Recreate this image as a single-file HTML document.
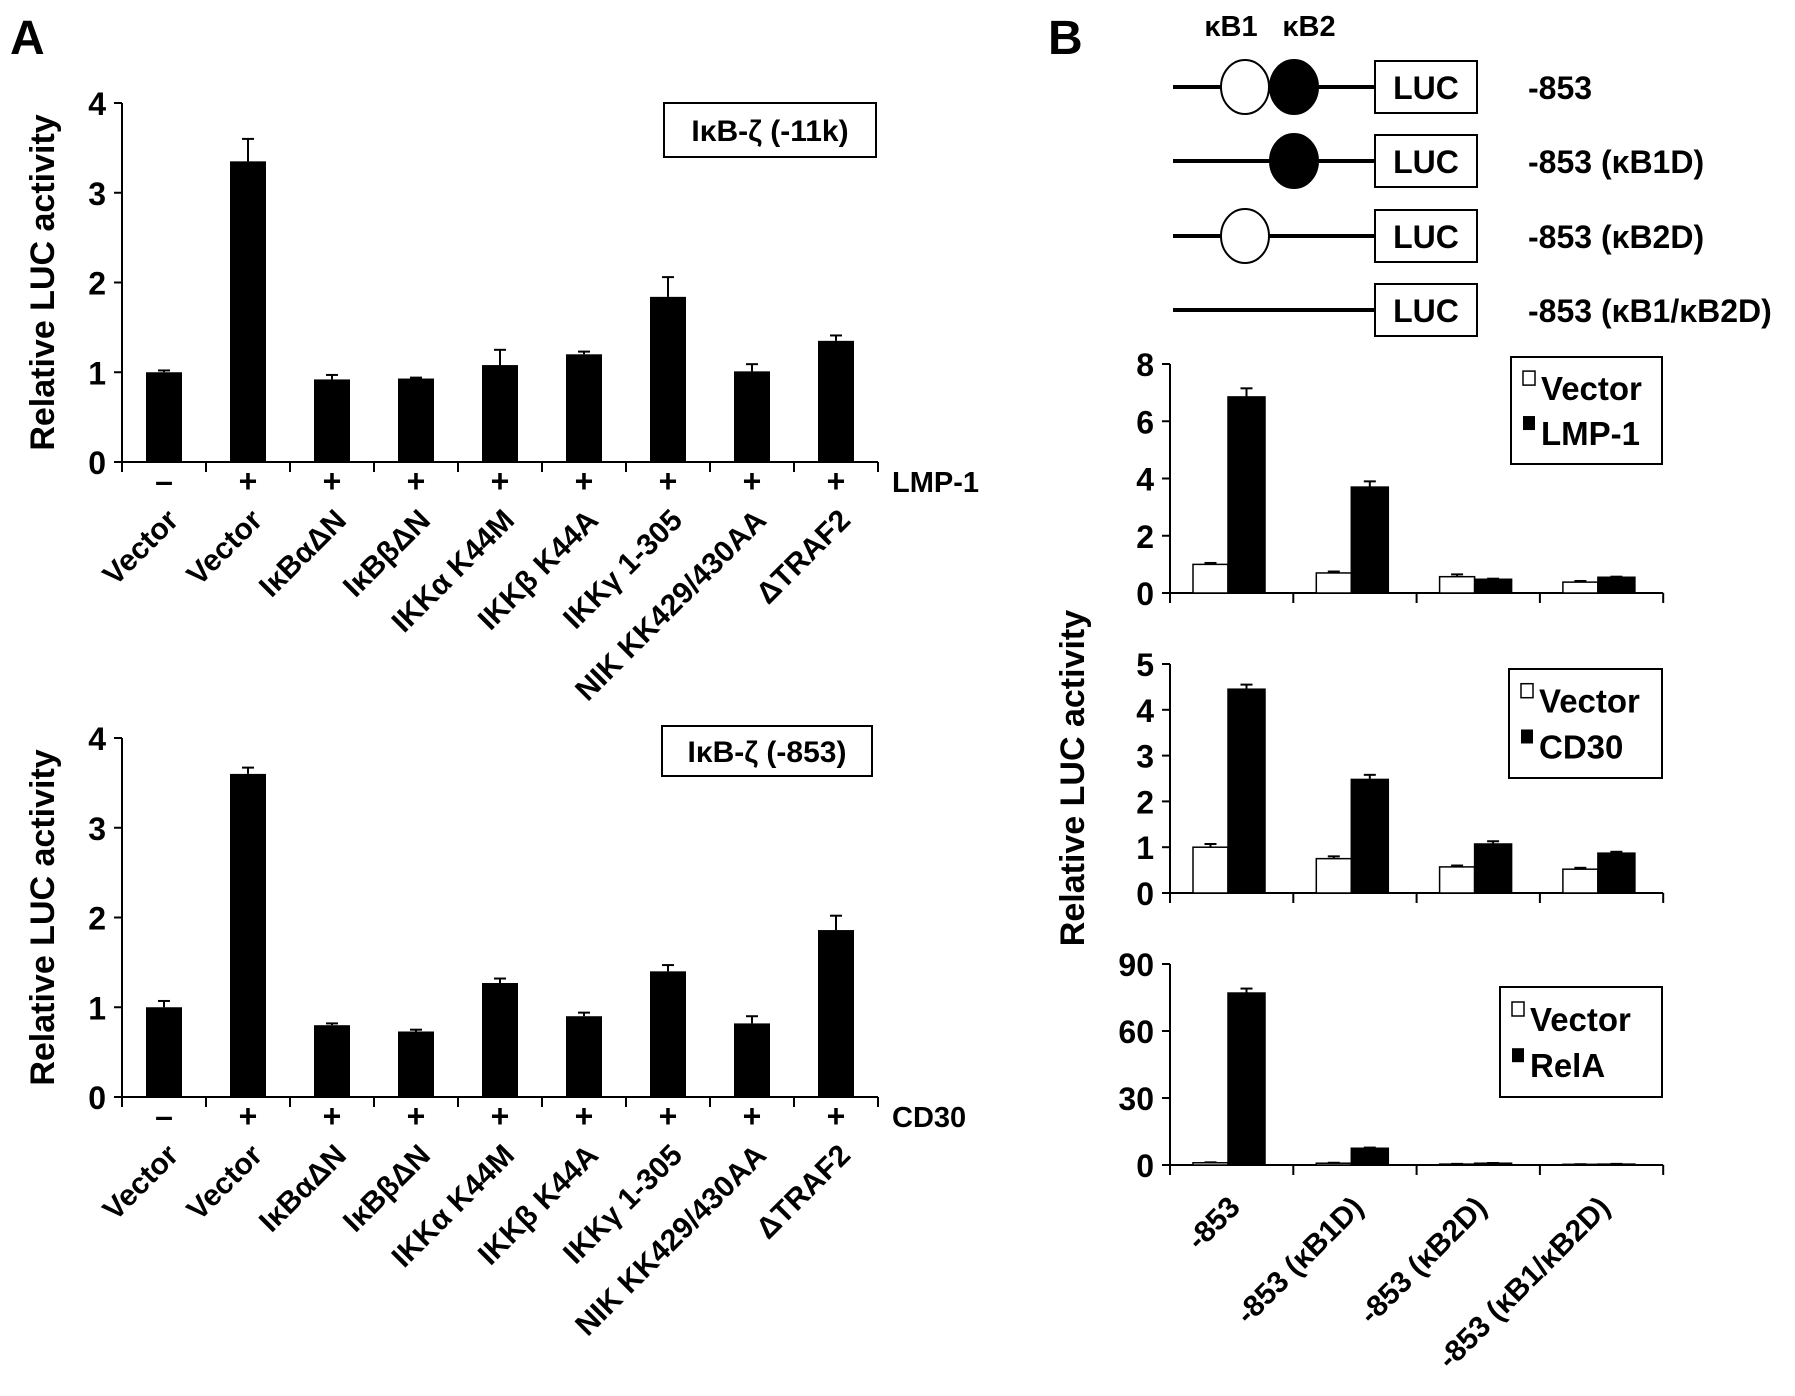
<!DOCTYPE html>
<html><head><meta charset="utf-8"><style>
body{margin:0;background:#fff}
svg{display:block;font-family:"Liberation Sans",sans-serif;font-weight:bold}
</style></head><body>
<svg id="fig" width="1795" height="1396" viewBox="0 0 1795 1396">
<text x="10" y="54" font-size="48">A</text>
<text x="1048" y="54" font-size="48">B</text>
</svg>
<script>
const catsA = ["Vector","Vector","IκBαΔN","IκBβΔN","IKKα K44M","IKKβ K44A","IKKγ 1-305","NIK KK429/430AA","ΔTRAF2"];
const signsA = ["–","+","+","+","+","+","+","+","+"];
const lmpVals = [1.0,3.35,0.92,0.93,1.08,1.2,1.84,1.01,1.35];
const lmpErr = [1.02,3.6,0.97,0.94,1.25,1.23,2.06,1.09,1.41];
const cd30Vals = [1.0,3.6,0.8,0.73,1.27,0.9,1.4,0.82,1.86];
const cd30Err = [1.07,3.67,0.82,0.75,1.32,0.94,1.47,0.9,2.02];
const ticksA = [0,1,2,3,4];
const catsB = ["-853","-853 (κB1D)","-853 (κB2D)","-853 (κB1/κB2D)"];
const b1Vec = [1.0,0.7,0.57,0.38];
const b1VecErr = [1.05,0.75,0.65,0.42];
const b1Lmp = [6.85,3.7,0.48,0.55];
const b1LmpErr = [7.15,3.9,0.5,0.57];
const ticksB1 = [0,2,4,6,8];
const b2Vec = [1.0,0.75,0.57,0.52];
const b2VecErr = [1.07,0.8,0.6,0.55];
const b2Cd = [4.45,2.48,1.07,0.87];
const b2CdErr = [4.55,2.58,1.13,0.9];
const ticksB2 = [0,1,2,3,4,5];
const b3Vec = [1,0.8,0.4,0.3];
const b3VecErr = [1.2,1.0,0.5,0.35];
const b3Rel = [77,7.5,0.8,0.4];
const b3RelErr = [79,7.8,0.9,0.5];
const ticksB3 = [0,30,60,90];

const svg=document.getElementById('fig');
const NS='http://www.w3.org/2000/svg';
function mk(tag,attrs,txt){const e=document.createElementNS(NS,tag);for(const k in attrs)e.setAttribute(k,attrs[k]);if(txt!==undefined)e.textContent=txt;svg.appendChild(e);return e;}

function chartA(y0,y1,vals,errs,box,boxText,trig,prefix){
  const x0=122,cw=84,max=4;
  const ys=v=>y0-(v/max)*(y0-y1);
  let e;
  e=mk('line',{x1:x0,y1:y1,x2:x0,y2:y0+10,stroke:'#000','stroke-width':2});
  
  e=mk('line',{x1:x0-8,y1:y0,x2:x0+cw*9,y2:y0,stroke:'#000','stroke-width':2});
  
  ticksA.forEach(t=>{
    mk('line',{x1:x0-8,y1:ys(t),x2:x0,y2:ys(t),stroke:'#000','stroke-width':2});
    e=mk('text',{x:x0-16,y:ys(t)+12,'font-size':32,'text-anchor':'end'},t);
    
  });
  for(let i=0;i<=9;i++) mk('line',{x1:x0+i*cw,y1:y0,x2:x0+i*cw,y2:y0+10,stroke:'#000','stroke-width':2});
  vals.forEach((v,i)=>{
    const cx=x0+cw*(i+0.5);
    e=mk('line',{x1:cx,y1:ys(v),x2:cx,y2:ys(errs[i]),stroke:'#000','stroke-width':2});
    
    mk('line',{x1:cx-6,y1:ys(errs[i]),x2:cx+6,y2:ys(errs[i]),stroke:'#000','stroke-width':2});
    e=mk('rect',{x:cx-18,y:ys(v),width:36,height:y0-ys(v),fill:'#000'});
    
    e=mk('text',{x:cx,y:y0+30,'font-size':32,'text-anchor':'middle'},signsA[i]);
    
    const lx=cx+16, ly=y0+60;
    e=mk('text',{x:lx,y:ly,'font-size':30,'text-anchor':'end',transform:`rotate(-45 ${lx} ${ly})`},catsA[i]);
    
  });
  e=mk('text',{x:x0+cw*9+14,y:y0+30,'font-size':29},trig);
  
  e=mk('rect',{x:box[0],y:box[1],width:box[2],height:box[3],fill:'#fff',stroke:'#000','stroke-width':2});
  
  e=mk('text',{x:box[0]+box[2]/2,y:box[1]+box[3]/2+11,'font-size':30,'text-anchor':'middle'},boxText);
  
  const ty=(y0+y1)/2;
  e=mk('text',{x:54,y:ty,'font-size':34,'text-anchor':'middle',transform:`rotate(-90 54 ${ty})`},'Relative LUC activity');
  
}
chartA(462,103,lmpVals,lmpErr,[664,103,212,54],'IκB-ζ (-11k)','LMP-1','chart-a1');
chartA(1097,738,cd30Vals,cd30Err,[662,726,210,50],'IκB-ζ (-853)','CD30','chart-a2');

function chartB(y0,y1,max,ticks,v1,e1,v2,e2,box,lab2,prefix,labels){
  const x0=1170,cw=123.3;
  const ys=v=>y0-(v/max)*(y0-y1);
  let e;
  e=mk('line',{x1:x0,y1:y1,x2:x0,y2:y0+10,stroke:'#000','stroke-width':2});
  
  e=mk('line',{x1:x0-8,y1:y0,x2:x0+cw*4,y2:y0,stroke:'#000','stroke-width':2});
  
  for(let i=0;i<=4;i++) mk('line',{x1:x0+i*cw,y1:y0,x2:x0+i*cw,y2:y0+10,stroke:'#000','stroke-width':2});
  ticks.forEach(t=>{
    mk('line',{x1:x0-8,y1:ys(t),x2:x0,y2:ys(t),stroke:'#000','stroke-width':2});
    e=mk('text',{x:x0-16,y:ys(t)+12,'font-size':32,'text-anchor':'end'},t);
    
  });
  v1.forEach((v,i)=>{
    const gx=x0+cw*i;
    [[v,e1[i],gx+23,35,'#fff','-vector-bar'],[v2[i],e2[i],gx+58,37,'#000','-treatment-bar']].forEach(([val,err,bx,bw,fill,nm])=>{
      const cx=bx+bw/2;
      mk('line',{x1:cx,y1:ys(val),x2:cx,y2:ys(err),stroke:'#000','stroke-width':2});
      mk('line',{x1:cx-6,y1:ys(err),x2:cx+6,y2:ys(err),stroke:'#000','stroke-width':2});
      e=mk('rect',{x:bx,y:ys(val),width:bw,height:y0-ys(val),fill:fill,stroke:'#000','stroke-width':1.5});
      
    });
    if(labels){
      const lx=gx+cw/2+10, ly=y0+44;
      e=mk('text',{x:lx,y:ly,'font-size':30,'text-anchor':'end',transform:`rotate(-45 ${lx} ${ly})`},catsB[i]);
      
    }
  });
  e=mk('rect',{x:box[0],y:box[1],width:box[2],height:box[3],fill:'#fff',stroke:'#000','stroke-width':2});
  
  const r1=box[1]+box[3]*0.3, r2=box[1]+box[3]*0.72;
  mk('rect',{x:box[0]+12,y:r1-18,width:12,height:14,fill:'#fff',stroke:'#000','stroke-width':1.5});
  e=mk('text',{x:box[0]+30,y:r1+11,'font-size':33},'Vector');
  
  mk('rect',{x:box[0]+12,y:r2-18,width:12,height:14,fill:'#000'});
  e=mk('text',{x:box[0]+30,y:r2+11,'font-size':33},lab2);
  
}
chartB(593,364,8,ticksB1,b1Vec,b1VecErr,b1Lmp,b1LmpErr,[1511,357,151,107],'LMP-1','chart-b1',false);
chartB(893,664,5,ticksB2,b2Vec,b2VecErr,b2Cd,b2CdErr,[1509,669,153,109],'CD30','chart-b2',false);
chartB(1165,964,90,ticksB3,b3Vec,b3VecErr,b3Rel,b3RelErr,[1500,987,162,110],'RelA','chart-b3',true);
let t=mk('text',{x:1084,y:778,'font-size':34,'text-anchor':'middle',transform:'rotate(-90 1084 778)'},'Relative LUC activity');



t=mk('text',{x:1231,y:36,'font-size':29,'text-anchor':'middle'},'κB1');


t=mk('text',{x:1309,y:36,'font-size':29,'text-anchor':'middle'},'κB2');


const rows=[87,161,236,310];
const rowNames=['-853','-853 (κB1D)','-853 (κB2D)','-853 (κB1/κB2D)'];
const hasW=[1,0,1,0], hasB=[1,1,0,0];
rows.forEach((y,i)=>{
  let e=mk('line',{x1:1173,y1:y,x2:1375,y2:y,stroke:'#000','stroke-width':4});
  
  
  if(hasW[i]){e=mk('ellipse',{cx:1245,cy:y,rx:24,ry:27,fill:'#fff',stroke:'#000','stroke-width':2});}
  if(hasB[i]){e=mk('ellipse',{cx:1294,cy:y,rx:24,ry:27,fill:'#000',stroke:'#000','stroke-width':2});}
  e=mk('rect',{x:1375,y:y-26,width:102,height:52,fill:'#fff',stroke:'#000','stroke-width':2});
  
  
  e=mk('text',{x:1426,y:y+12,'font-size':32,'text-anchor':'middle'},'LUC');
  
  
  e=mk('text',{x:1528,y:y+12,'font-size':32},rowNames[i]);
  
  
});
</script>
</body></html>
